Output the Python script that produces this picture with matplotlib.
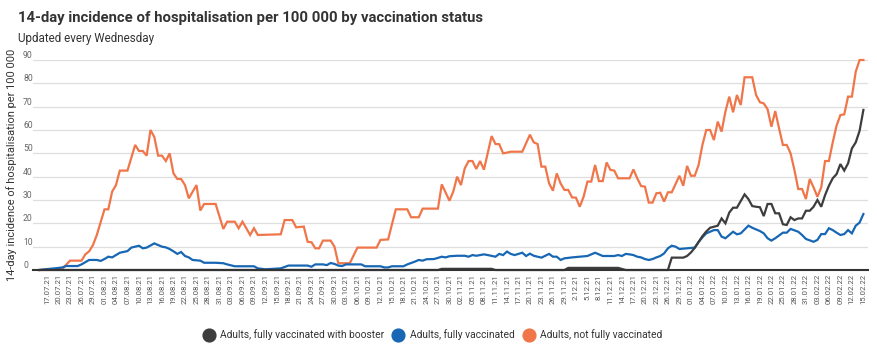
import pandas as pd
import matplotlib
matplotlib.use("Agg")
import matplotlib.pyplot as plt
import matplotlib.dates as mdates
from matplotlib.lines import Line2D

plt.rcParams['font.family'] = ['Roboto', 'DejaVu Sans']

# --- data (vertices) ---
booster_dates = ["15.07.21", "27.10.21", "28.10.21", "10.11.21", "11.11.21", "29.11.21", "30.11.21",
                 "13.12.21", "15.12.21", "26.12.21", "27.12.21", "30.12.21", "31.12.21", "01.01.22",
                 "02.01.22", "03.01.22", "04.01.22", "05.01.22", "06.01.22", "08.01.22", "09.01.22",
                 "10.01.22", "11.01.22", "12.01.22", "13.01.22", "15.01.22", "16.01.22", "17.01.22",
                 "18.01.22", "19.01.22", "20.01.22", "21.01.22", "22.01.22", "23.01.22", "24.01.22",
                 "25.01.22", "26.01.22", "27.01.22", "28.01.22", "29.01.22", "30.01.22", "31.01.22",
                 "01.02.22", "02.02.22", "03.02.22", "04.02.22", "05.02.22", "06.02.22", "07.02.22",
                 "08.02.22", "09.02.22", "10.02.22", "11.02.22", "12.02.22", "13.02.22", "14.02.22",
                 "15.02.22"]
booster_vals = [0, 0, 0.5, 0.5, 0, 0, 0.9,
                0.9, 0, 0, 5.3, 5.3, 6, 7.5,
                9.5, 12, 14.5, 16.5, 18.1, 19, 22.1,
                20, 24.6, 26.7, 26.7, 32.4, 30.4, 27.4,
                27.1, 26.9, 23.1, 28.3, 28.3, 24.3, 24.3,
                19.6, 19.3, 22.6, 21.4, 22.1, 22.1, 25.4,
                25.4, 27.1, 30, 27.1, 32.1, 36.1, 39.3,
                41.1, 45.4, 42.6, 45.7, 52.1, 54.7, 59.6,
                68.6]

full_dates = ["15.07.21", "17.07.21", "19.07.21", "21.07.21", "22.07.21", "25.07.21", "26.07.21",
              "28.07.21", "30.07.21", "31.07.21", "01.08.21", "02.08.21", "03.08.21", "04.08.21",
              "05.08.21", "07.08.21", "08.08.21", "09.08.21", "10.08.21", "11.08.21", "12.08.21",
              "14.08.21", "15.08.21", "16.08.21", "17.08.21", "18.08.21", "19.08.21", "20.08.21",
              "21.08.21", "22.08.21", "23.08.21", "24.08.21", "26.08.21", "27.08.21", "30.08.21",
              "01.09.21", "02.09.21", "04.09.21", "09.09.21", "10.09.21", "12.09.21", "14.09.21",
              "16.09.21", "18.09.21", "23.09.21", "24.09.21", "25.09.21", "27.09.21", "28.09.21",
              "29.09.21", "30.09.21", "01.10.21", "02.10.21", "03.10.21", "07.10.21", "08.10.21",
              "12.10.21", "13.10.21", "14.10.21", "15.10.21", "18.10.21", "19.10.21", "21.10.21",
              "22.10.21", "23.10.21", "24.10.21", "26.10.21", "28.10.21", "29.10.21", "30.10.21",
              "01.11.21", "03.11.21", "04.11.21", "05.11.21", "06.11.21", "08.11.21", "09.11.21",
              "11.11.21", "12.11.21", "13.11.21", "14.11.21", "15.11.21", "16.11.21", "18.11.21",
              "19.11.21", "20.11.21", "21.11.21", "22.11.21", "23.11.21", "25.11.21", "26.11.21",
              "27.11.21", "28.11.21", "29.11.21", "01.12.21", "03.12.21", "05.12.21", "07.12.21",
              "09.12.21", "12.12.21", "13.12.21", "14.12.21", "15.12.21", "16.12.21", "17.12.21",
              "18.12.21", "19.12.21", "20.12.21", "21.12.21", "22.12.21", "23.12.21", "24.12.21",
              "25.12.21", "26.12.21", "27.12.21", "28.12.21", "29.12.21", "02.01.22", "03.01.22",
              "04.01.22", "05.01.22", "07.01.22", "08.01.22", "09.01.22", "10.01.22", "12.01.22",
              "13.01.22", "14.01.22", "16.01.22", "17.01.22", "19.01.22", "20.01.22", "21.01.22",
              "22.01.22", "23.01.22", "25.01.22", "26.01.22", "27.01.22", "29.01.22", "30.01.22",
              "31.01.22", "02.02.22", "03.02.22", "04.02.22", "05.02.22", "06.02.22", "07.02.22",
              "08.02.22", "09.02.22", "10.02.22", "11.02.22", "12.02.22", "13.02.22", "14.02.22",
              "15.02.22"]
full_vals = [0, 0.4, 0.7, 1.1, 1.7, 1.7, 2.4,
             4.3, 4.3, 3.9, 4.7, 5.7, 5.4, 6.4,
             7.4, 8.1, 9.6, 10, 10.4, 9.3, 9.6,
             11.4, 10.7, 10, 9.7, 9, 8, 6.9,
             7.7, 6, 5.4, 4.3, 4, 3.1, 3.1,
             2.9, 2.4, 1.6, 1.6, 0.7, 0.3, 0.5,
             0.7, 1.9, 1.9, 1.4, 2.4, 2.4, 2.1,
             3, 2.6, 1.9, 1.7, 2.4, 2.4, 1.6,
             1.6, 1.1, 1.1, 1.6, 1.6, 2.4, 3.6,
             4.3, 4, 4.6, 4.7, 5.7, 5.4, 5.9,
             6.1, 6.1, 5.7, 6.4, 6.1, 6.7, 6.4,
             5.7, 6.9, 6.4, 7.9, 6.9, 6.4, 7.4,
             6, 7, 6.1, 5.7, 5.3, 6.9, 5.7,
             5.7, 4.3, 5, 5.4, 5.7, 6, 7.4,
             6, 6, 6.4, 6, 6.9, 6.7, 6.4,
             5.7, 5.4, 4.7, 4.3, 4.7, 5.4, 6,
             7.1, 9.3, 10.4, 10, 9, 9.6, 12,
             14, 15.7, 17.1, 17.1, 14.3, 13.6, 16.4,
             15.3, 15.7, 19, 18.1, 16.7, 15.7, 13.6,
             12.6, 13.6, 16, 16, 17.6, 16.4, 15,
             13.3, 12.1, 12.9, 15.4, 15.4, 17.9, 17.1,
             16, 15, 15.4, 17.1, 15.7, 19, 20.3,
             24]

notfull_dates = ["15.07.21", "21.07.21", "23.07.21", "26.07.21", "27.07.21", "28.07.21", "29.07.21",
                 "30.07.21", "01.08.21", "02.08.21", "03.08.21", "04.08.21", "05.08.21", "07.08.21",
                 "09.08.21", "10.08.21", "11.08.21", "12.08.21", "13.08.21", "14.08.21", "15.08.21",
                 "16.08.21", "17.08.21", "18.08.21", "19.08.21", "20.08.21", "21.08.21", "22.08.21",
                 "23.08.21", "25.08.21", "26.08.21", "27.08.21", "30.08.21", "01.09.21", "02.09.21",
                 "04.09.21", "05.09.21", "06.09.21", "07.09.21", "08.09.21", "09.09.21", "10.09.21",
                 "16.09.21", "17.09.21", "19.09.21", "20.09.21", "22.09.21", "23.09.21", "24.09.21",
                 "25.09.21", "26.09.21", "27.09.21", "29.09.21", "30.09.21", "01.10.21", "04.10.21",
                 "06.10.21", "11.10.21", "12.10.21", "14.10.21", "16.10.21", "19.10.21", "20.10.21",
                 "22.10.21", "23.10.21", "27.10.21", "28.10.21", "30.10.21", "31.10.21", "01.11.21",
                 "02.11.21", "03.11.21", "04.11.21", "05.11.21", "06.11.21", "07.11.21", "08.11.21",
                 "10.11.21", "11.11.21", "12.11.21", "13.11.21", "14.11.21", "15.11.21", "18.11.21",
                 "20.11.21", "21.11.21", "22.11.21", "23.11.21", "24.11.21", "25.11.21", "26.11.21",
                 "27.11.21", "28.11.21", "29.11.21", "30.11.21", "01.12.21", "02.12.21", "03.12.21",
                 "04.12.21", "05.12.21", "06.12.21", "07.12.21", "08.12.21", "09.12.21", "10.12.21",
                 "11.12.21", "12.12.21", "13.12.21", "16.12.21", "17.12.21", "18.12.21", "19.12.21",
                 "20.12.21", "21.12.21", "22.12.21", "23.12.21", "24.12.21", "25.12.21", "26.12.21",
                 "27.12.21", "28.12.21", "29.12.21", "30.12.21", "31.12.21", "01.01.22", "02.01.22",
                 "03.01.22", "04.01.22", "05.01.22", "06.01.22", "07.01.22", "08.01.22", "09.01.22",
                 "10.01.22", "11.01.22", "12.01.22", "13.01.22", "14.01.22", "15.01.22", "17.01.22",
                 "18.01.22", "19.01.22", "20.01.22", "21.01.22", "22.01.22", "23.01.22", "24.01.22",
                 "25.01.22", "26.01.22", "27.01.22", "28.01.22", "29.01.22", "30.01.22", "31.01.22",
                 "01.02.22", "02.02.22", "03.02.22", "04.02.22", "05.02.22", "06.02.22", "07.02.22",
                 "08.02.22", "09.02.22", "10.02.22", "11.02.22", "12.02.22", "13.02.22", "14.02.22",
                 "15.02.22"]
notfull_vals = [0, 0.5, 4, 4, 6.7, 8, 10.7,
                15, 26, 26, 33.6, 36.4, 42.6, 42.6,
                53.6, 51, 51, 49, 60, 57, 49,
                49, 46.7, 50, 41.4, 39, 39, 36.4,
                30.7, 36.4, 25.5, 28.3, 28.3, 17.6, 20.7,
                20.7, 17.9, 20.7, 17.9, 15, 17.9, 15,
                15.3, 21.4, 21.4, 18.3, 18.6, 12.1, 11.9,
                9.3, 9.3, 12.6, 12.6, 10, 2.9, 2.9,
                9.6, 9.6, 12.9, 13.1, 26, 26, 22.6,
                22.6, 26.3, 26.3, 36.7, 29.7, 33.6, 40,
                36.4, 43.6, 46.7, 46.7, 43.3, 46.7, 43,
                57.4, 54, 53.9, 50, 50.3, 50.7, 50.7,
                58, 54.7, 54, 44.3, 44.3, 37.1, 34,
                41.4, 37.1, 34.3, 34.3, 31.1, 31, 27.1,
                31.4, 37.9, 37.9, 45, 38.1, 38.1, 46.1,
                42.9, 42.6, 39.3, 39.3, 43.1, 39.3, 36,
                35.7, 28.9, 28.9, 32.9, 33.1, 29.3, 33.3,
                33.3, 36.9, 40.4, 36.1, 44.6, 40.4, 40.4,
                45, 53.6, 60, 60, 55.7, 63.6, 59.3,
                67.9, 74.3, 67.6, 75, 70.7, 82.6, 82.6,
                75, 71.9, 71.4, 68.9, 61.4, 68.1, 60.7,
                53.6, 53.6, 50, 42.9, 34.7, 34.7, 30.4,
                39, 35.4, 31.4, 35.4, 46.7, 46.7, 54.7,
                61.9, 66.4, 66.7, 74.3, 74.3, 85, 90,
                90]

series_names = ["Adults, fully vaccinated with booster", "Adults, fully vaccinated",
                "Adults, not fully vaccinated"]
series_colors = ["#3d3d3d", "#1767b4", "#f0764a"]

first_tick = "17.07.21"
last_tick = "15.02.22"
y_ticks = [0, 10, 20, 30, 40, 50, 60, 70, 80, 90]

def to_num(dates):
    return mdates.date2num(pd.to_datetime(dates, format="%d.%m.%y"))

fig = plt.figure(figsize=(8.77, 3.5), dpi=100)
ax = fig.add_axes([33 / 877, 80 / 350, 835 / 877, 210 / 350])

# orange first so the other lines sit on top
for dates, vals, col in [(notfull_dates, notfull_vals, series_colors[2]),
                         (full_dates, full_vals, series_colors[1]),
                         (booster_dates, booster_vals, series_colors[0])]:
    ax.plot(to_num(dates), vals, color=col, lw=1.6, clip_on=False, solid_joinstyle="miter", zorder=3)

# x ticks every 3 days; December 2021 labels have no leading zero in the original
tick_days = pd.date_range(pd.to_datetime(first_tick, format="%d.%m.%y"),
                          pd.to_datetime(last_tick, format="%d.%m.%y"), freq="3D")
tick_labels = []
for d in tick_days:
    if d.year == 2021 and d.month == 12:
        tick_labels.append("%d.%s" % (d.day, d.strftime("%m.%y")))
    else:
        tick_labels.append(d.strftime("%d.%m.%y"))
t0 = mdates.date2num(tick_days[0])
ax.set_xticks(mdates.date2num(tick_days))
ax.set_xticklabels(tick_labels, rotation=90, fontsize=5.6, color="#555555")
ax.set_xlim(t0 - 3.65, t0 + 214.2)
ax.tick_params(axis="x", length=0, pad=3)

ax.set_ylim(0, 90)
ax.set_yticks(y_ticks)
ax.set_yticklabels([str(v) for v in y_ticks], fontsize=6.2, color="#666666")
ax.tick_params(axis="y", length=0, pad=7.2)
for lab in ax.get_yticklabels():
    lab.set_ha("left")
    lab.set_va("bottom")
ax.grid(axis="y", color="#dedede", lw=0.9)
ax.set_axisbelow(True)
for s in ["top", "right", "left"]:
    ax.spines[s].set_visible(False)
ax.spines["bottom"].set_color("#333333")
ax.spines["bottom"].set_linewidth(1.5)
ax.spines["bottom"].set_zorder(4)

ax.set_ylabel("14-day incidence of hospitalisation per 100 000", fontsize=7.9, color="#333333", labelpad=4.5)

fig.text(18 / 877, 1 - 21.7 / 350, "14-day incidence of hospitalisation per 100 000 by vaccination status",
         fontsize=10.7, fontweight="bold", color="#333333", va="baseline")
fig.text(18 / 877, 1 - 41.7 / 350, "Updated every Wednesday", fontsize=8.4, color="#333333", va="baseline")

handles = [Line2D([], [], ls="none", marker="o", markersize=9.2, color=c) for c in series_colors]
fig.legend(handles, series_names, loc="center", bbox_to_anchor=(433 / 877, 1 - 335 / 350), ncol=3,
           frameon=False, fontsize=7.4, handlelength=1, handletextpad=0.6, columnspacing=0.9,
           labelcolor="#333333")

fig.savefig("out.png", dpi=100)
